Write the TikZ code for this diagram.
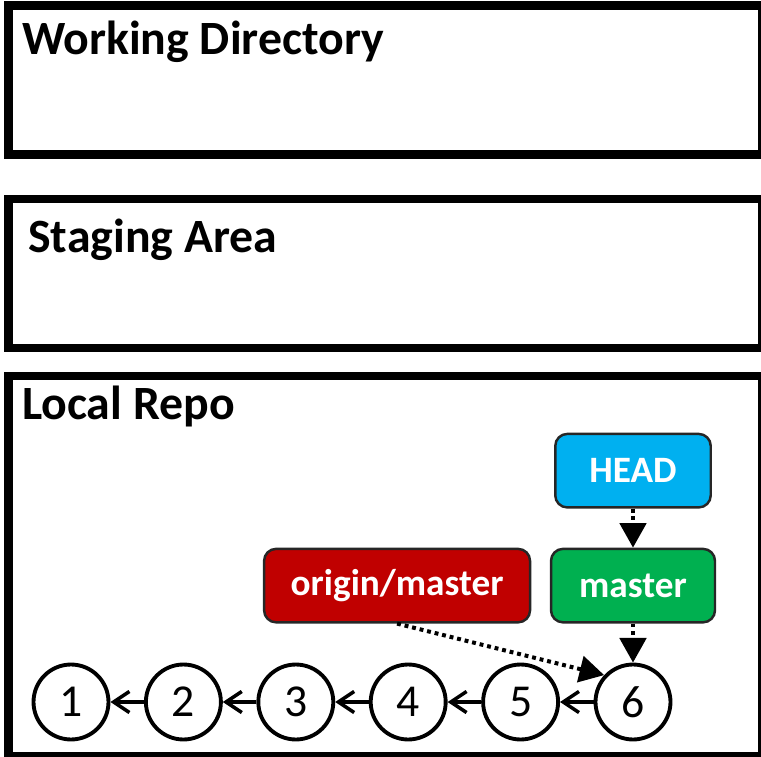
\documentclass[tikz,border=0pt]{standalone}
\usepackage{fontspec}
\setmainfont{Carlito}
\usetikzlibrary{arrows.meta, positioning}
\definecolor{headblue}{HTML}{00B0F0}
\definecolor{mastergreen}{HTML}{00B050}
\definecolor{originred}{HTML}{C00000}

\begin{document}
\begin{tikzpicture}[x=0.02cm, y=-0.02cm,
    area/.style={line width=4.8pt},
    areatitle/.style={anchor=base west, inner sep=0pt, font=\bfseries\fontsize{27.2}{32}\selectfont},
    commit/.style={circle, draw, line width=2.2pt, minimum size=1.5cm, inner sep=0pt, font=\fontsize{26}{30}\selectfont},
    ref/.style={rounded corners=0.24cm, draw=black!85, line width=1.4pt, minimum height=1.47cm, text=white, font=\bfseries\fontsize{21.2}{25}\selectfont},
    parent/.style={-{Straight Barb[length=9pt, width=12pt]}, line width=2pt},
    points/.style={-{Triangle[length=14pt, width=15pt]}, line width=2.3pt, dash pattern=on 2.2pt off 2.2pt}]
    \useasboundingbox (0,0) rectangle (761,757);
    \clip (0,0) rectangle (761,757);
    % the three areas
    \draw[area] (8.3,5.5) rectangle (762.5,154.5);
    \draw[area] (8.3,199) rectangle (762.5,348);
    \draw[area] (8.3,376) rectangle (762.5,756);
    \node[areatitle] (workdir) at (21.7,55) {Working Directory};
    \node[areatitle] (staging) at (28,252) {Staging Area};
    \node[areatitle] (local) at (21.7,419) {Local Repo};
    % commits
    \foreach \i in {1,...,6} {
        \node[commit] (c\i) at ({71+112.4*(\i-1)},702) {\i};
    }
    \foreach \i/\j in {2/1,3/2,4/3,5/4,6/5} {
        \draw[parent] (c\i) -- (c\j);
    }
    % branch pointers
    \node[ref, fill=mastergreen, minimum width=3.28cm, above=0.78cm of c6] (master) {master};
    \node[ref, fill=headblue, minimum width=3.11cm, above=0.78cm of master] (head) {HEAD};
    \node[ref, fill=originred, minimum width=5.32cm, left=0.37cm of master] (origin) {origin/master};
    \draw[points] (head) -- (master);
    \draw[points] (master) -- (c6);
    \draw[points] (origin.south) -- (c6.137);
\end{tikzpicture}
\end{document}
